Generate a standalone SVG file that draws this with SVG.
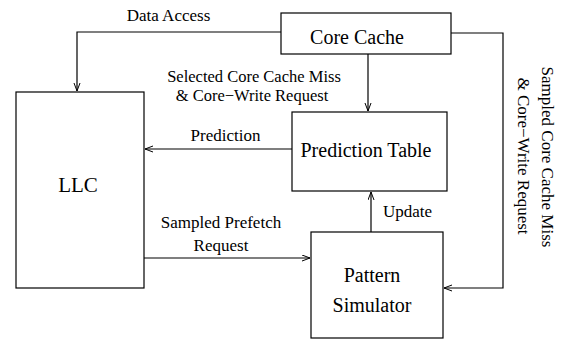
<svg xmlns="http://www.w3.org/2000/svg" width="563" height="341" viewBox="0 0 563 341">
<defs>
<marker id="arr" markerUnits="userSpaceOnUse" markerWidth="10" markerHeight="8" refX="9" refY="3.5" orient="auto">
<path d="M1,0.5 L9,3.5 L1,6.5" fill="none" stroke="#000" stroke-width="1"/>
</marker>
<style>
.box{fill:#fff;stroke:#000;stroke-width:1.2}
.ln{fill:none;stroke:#000;stroke-width:1.2}
.t{font-family:"Liberation Serif","Times New Roman",serif;fill:#000}
.s17{font-size:17px}
.s20{font-size:20px}
.m{text-anchor:middle}
</style>
</defs>
<rect width="563" height="341" fill="#fff"/>
<g id="connectors">
<polyline class="ln" points="281,32 77,32 77,91" marker-end="url(#arr)"/>
<line class="ln" x1="368" y1="54" x2="368" y2="111" marker-end="url(#arr)"/>
<line class="ln" x1="292" y1="149" x2="145" y2="149" marker-end="url(#arr)"/>
<line class="ln" x1="371" y1="232" x2="371" y2="192" marker-end="url(#arr)"/>
<line class="ln" x1="144" y1="258" x2="310" y2="258" marker-end="url(#arr)"/>
<polyline class="ln" points="451,33 503,33 503,288 444,288" marker-end="url(#arr)"/>
<text class="t s17 m" x="168.5" y="21">Data Access</text>
<text class="t m" style="font-size:16.5px" x="254" y="82">Selected Core Cache Miss</text>
<text class="t m" style="font-size:16.5px" x="252" y="100.5">&amp; Core−Write Request</text>
<text class="t s17 m" x="225.5" y="141">Prediction</text>
<text class="t s17" x="383" y="217">Update</text>
<text class="t s17 m" x="221" y="228">Sampled Prefetch</text>
<text class="t s17 m" x="221" y="251">Request</text>
<text class="t s17 m" transform="translate(542,157) rotate(90)">Sampled Core Cache Miss</text>
<text class="t s17 m" transform="translate(518,156) rotate(90)">&amp; Core−Write Request</text>
</g>
<g id="core-cache">
<rect class="box" x="281" y="13" width="170" height="41"/>
<text class="t s20 m" x="357" y="44">Core Cache</text>
</g>
<g id="llc">
<rect class="box" x="16" y="92" width="128" height="196"/>
<text class="t m" style="font-size:21px" x="78" y="192">LLC</text>
</g>
<g id="prediction-table">
<rect class="box" x="292" y="112" width="155" height="79"/>
<text class="t s20 m" x="366" y="157">Prediction Table</text>
</g>
<g id="pattern-simulator">
<rect class="box" x="311" y="232" width="132" height="106"/>
<text class="t s20 m" x="372" y="282">Pattern</text>
<text class="t s20 m" x="372" y="312">Simulator</text>
</g>
</svg>
